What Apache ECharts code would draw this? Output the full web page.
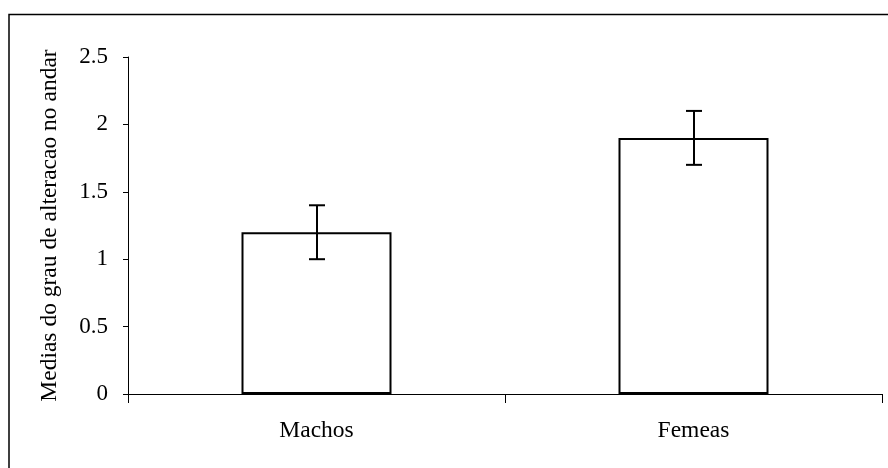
<!DOCTYPE html>
<html>
<head>
<meta charset="utf-8">
<script src="https://cdn.jsdelivr.net/npm/echarts@6/dist/echarts.min.js"></script>
<style>
html,body{margin:0;padding:0;background:#fff;}
#c{width:888px;height:468px;}
</style>
</head>
<body>
<div id="c"></div>
<script>
var categories = ['Machos', 'Femeas'];
var means = [1.2, 1.9];
var errLow = [1.0, 1.7];
var errHigh = [1.4, 2.1];
var yTicks = [0, 0.5, 1, 1.5, 2, 2.5];
var yTitle = 'Medias do grau de alteracao no andar';

var font = '"Liberation Serif", "Times New Roman", serif';
var chart = echarts.init(document.getElementById('c'), null, {renderer: 'canvas'});
chart.setOption({
  animation: false,
  backgroundColor: '#fff',
  graphic: [{
    type: 'rect',
    shape: {x: 9, y: 14.5, width: 1000, height: 1000},
    style: {fill: 'none', stroke: '#000', lineWidth: 1.5},
    silent: true,
    z: -1
  }],
  grid: {left: 128, right: 6, top: 57, bottom: 74, containLabel: false},
  xAxis: {
    type: 'category',
    data: categories,
    boundaryGap: true,
    axisLine: {lineStyle: {color: '#000', width: 1}},
    axisTick: {show: true, length: 9, alignWithLabel: false, lineStyle: {color: '#000'}},
    axisLabel: {color: '#000', fontFamily: font, fontSize: 23.5, margin: 25}
  },
  yAxis: {
    type: 'value',
    min: yTicks[0],
    max: yTicks[yTicks.length - 1],
    interval: 0.5,
    name: yTitle,
    nameLocation: 'middle',
    nameGap: 66,
    nameRotate: 90,
    nameTextStyle: {color: '#000', fontFamily: font, fontSize: 23.5},
    splitLine: {show: false},
    axisLine: {show: true, lineStyle: {color: '#000', width: 1}},
    axisTick: {show: true, length: 5, inside: false, lineStyle: {color: '#000'}},
    axisLabel: {color: '#000', fontFamily: font, fontSize: 23, margin: 20}
  },
  series: [{
    type: 'bar',
    data: means,
    barWidth: 150,
    itemStyle: {color: '#fff', borderColor: '#000', borderWidth: 2}
  }, {
    type: 'custom',
    data: categories.map(function (c, i) { return [i, errLow[i], errHigh[i]]; }),
    renderItem: function (params, api) {
      var lo = api.coord([api.value(0), api.value(1)]);
      var hi = api.coord([api.value(0), api.value(2)]);
      var x = Math.round(lo[0]);
      var hw = 8;
      var st = {stroke: '#000', lineWidth: 2};
      return {
        type: 'group',
        children: [
          {type: 'line', shape: {x1: x, y1: hi[1], x2: x, y2: lo[1]}, style: st},
          {type: 'line', shape: {x1: x - hw, y1: hi[1], x2: x + hw, y2: hi[1]}, style: st},
          {type: 'line', shape: {x1: x - hw, y1: lo[1], x2: x + hw, y2: lo[1]}, style: st}
        ]
      };
    },
    z: 5
  }]
});
</script>
</body>
</html>
